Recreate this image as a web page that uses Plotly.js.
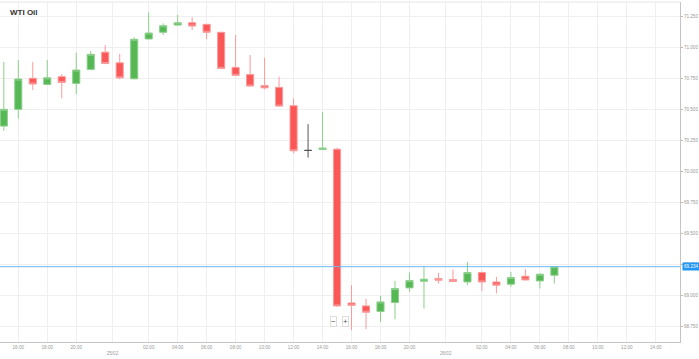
<!DOCTYPE html>
<html><head><meta charset="utf-8">
<script src="https://cdn.plot.ly/plotly-3.0.1.min.js"></script>
<style>html,body{margin:0;padding:0;background:#fff;}#chart{width:699px;height:359px;}</style>
</head><body><div id="chart"></div>
<script>
// Time slots of the x axis (hourly, 23:00 is a trading break)
const slotDates = ['24/02','24/02','24/02','24/02','24/02','24/02','24/02','24/02',
  '25/02','25/02','25/02','25/02','25/02','25/02','25/02','25/02','25/02','25/02','25/02','25/02','25/02','25/02','25/02','25/02','25/02','25/02','25/02','25/02','25/02','25/02','25/02',
  '26/02','26/02','26/02','26/02','26/02','26/02','26/02','26/02','26/02','26/02','26/02','26/02','26/02','26/02','26/02','26/02'];
const slotHours = ['15:00','16:00','17:00','18:00','19:00','20:00','21:00','22:00',
  '00:00','01:00','02:00','03:00','04:00','05:00','06:00','07:00','08:00','09:00','10:00','11:00','12:00','13:00','14:00','15:00','16:00','17:00','18:00','19:00','20:00','21:00','22:00',
  '00:00','01:00','02:00','03:00','04:00','05:00','06:00','07:00','08:00','09:00','10:00','11:00','12:00','13:00','14:00','15:00'];

// Hourly OHLC candles (first 39 slots)
const openV  = [70.367,70.502,70.752,70.703,70.765,70.711,70.824,70.963,70.877,70.748,71.069,71.123,71.181,71.200,71.187,71.123,70.840,70.782,70.694,70.679,70.531,70.171,70.179,70.181,68.942,68.918,68.873,68.945,69.063,69.117,69.139,69.131,69.111,69.187,69.111,69.093,69.157,69.119,69.165];
const highV  = [70.885,70.899,70.883,70.899,70.786,70.958,70.972,71.020,70.948,71.082,71.284,71.195,71.262,71.244,71.190,71.125,71.101,70.940,70.918,70.765,70.590,70.383,70.482,70.192,69.085,68.977,68.998,69.119,69.187,69.232,69.184,69.211,69.273,69.195,69.152,69.192,69.214,69.180,69.240];
const lowV   = [70.329,70.429,70.657,70.698,70.590,70.625,70.820,70.867,70.744,70.744,71.066,71.101,71.179,71.141,71.066,70.830,70.774,70.688,70.663,70.526,70.147,70.113,70.177,68.910,68.722,68.730,68.789,68.810,69.031,68.897,69.098,69.112,69.085,69.039,69.018,69.071,69.125,69.058,69.098];
const closeV = [70.502,70.746,70.706,70.756,70.719,70.819,70.945,70.871,70.756,71.066,71.117,71.176,71.200,71.173,71.123,70.832,70.776,70.690,70.675,70.528,70.168,70.171,70.190,68.918,68.923,68.867,68.950,69.058,69.123,69.133,69.125,69.115,69.187,69.111,69.085,69.147,69.127,69.173,69.234];

const currentPrice = 69.234;
const chartTitle = 'WTI Oil';

// positions = slot index
const pos = slotHours.map((_, i) => i);

// ticks: even hours (skipping 22:00/00:00 near the day break) and date separators
const tickvals = [], ticktext = [];
slotHours.forEach((h, i) => {
  if (i > 0 && slotDates[i] !== slotDates[i-1]) { tickvals.push(i - 0.5); ticktext.push(' <br>' + slotDates[i]); }
  const hr = parseInt(h, 10);
  if (hr % 2 === 0 && hr !== 22 && hr !== 0) { tickvals.push(i); ticktext.push(h); }
});

const main = {x:[], open:[], high:[], low:[], close:[]};
const doji = {x:[], open:[], high:[], low:[], close:[]};
openV.forEach((o, i) => {
  const t = (o === closeV[i]) ? doji : main;
  t.x.push(pos[i]); t.open.push(o); t.high.push(highV[i]); t.low.push(lowV[i]); t.close.push(closeV[i]);
});

const traces = [
  Object.assign({type:'candlestick', whiskerwidth:0, hoverinfo:'none', showlegend:false,
    increasing:{fillcolor:'#55b855', line:{color:'#8ccf8c', width:1}},
    decreasing:{fillcolor:'#fa5757', line:{color:'#fb9a9a', width:1}}}, main),
  Object.assign({type:'candlestick', whiskerwidth:0, hoverinfo:'none', showlegend:false,
    increasing:{fillcolor:'#444', line:{color:'#555', width:1}},
    decreasing:{fillcolor:'#444', line:{color:'#555', width:1}}}, doji)
];

const font = 'Liberation Sans, Arial, sans-serif';
const tickFont = {size:4.6, color:'#999', family:font};
const layout = {
  width:699, height:359,
  margin:{l:0, r:19, t:2, b:17},
  paper_bgcolor:'#fff', plot_bgcolor:'#fff',
  showlegend:false, dragmode:false,
  font:{family:font},
  title:{text:'<b>' + chartTitle + '</b>', x:10/699, xanchor:'left', y:1-12/359, yanchor:'middle', font:{family:font, size:8, color:'#333'}},
  xaxis:{range:[-0.262, 46.67], tickvals:tickvals, ticktext:ticktext, tickmode:'array',
    showgrid:true, gridcolor:'#efefef', zeroline:false, showline:true, linecolor:'#c4c4c4', linewidth:1,
    ticks:'', tickfont:tickFont, rangeslider:{visible:false}, fixedrange:true},
  yaxis:{side:'right', range:[68.627, 71.367], tick0:68.75, dtick:0.25, tickformat:'.3f',
    showgrid:true, gridcolor:'#efefef', zeroline:false, showline:true, linecolor:'#c4c4c4', linewidth:1,
    ticks:'outside', ticklen:2, tickcolor:'#bbb', tickfont:tickFont, fixedrange:true},
  shapes:[
    {type:'line', xref:'paper', yref:'y', x0:0, x1:1, y0:currentPrice, y1:currentPrice, line:{color:'#6ab8f2', width:1}},
    {type:'line', xref:'paper', yref:'paper', x0:0, x1:1, y0:1, y1:1, line:{color:'#e6e6e6', width:1}}
  ],
  annotations:[
    {xref:'paper', yref:'y', x:1, y:currentPrice, xanchor:'left', yanchor:'middle', xshift:2, text:currentPrice.toFixed(3),
     showarrow:false, bgcolor:'#2196f3', font:{size:4.6, color:'#fff', family:font}, borderpad:1},
    {xref:'paper', yref:'paper', x:333/680, y:(342-321)/340, xanchor:'center', yanchor:'middle', text:'−', showarrow:false,
     bgcolor:'#fff', bordercolor:'#ddd', borderwidth:1, borderpad:0, font:{size:8, color:'#555', family:font}},
    {xref:'paper', yref:'paper', x:345/680, y:(342-321)/340, xanchor:'center', yanchor:'middle', text:'+', showarrow:false,
     bgcolor:'#fff', bordercolor:'#ddd', borderwidth:1, borderpad:0, font:{size:8, color:'#555', family:font}}
  ]
};

Plotly.newPlot('chart', traces, layout, {displayModeBar:false, staticPlot:true});
</script></body></html>
